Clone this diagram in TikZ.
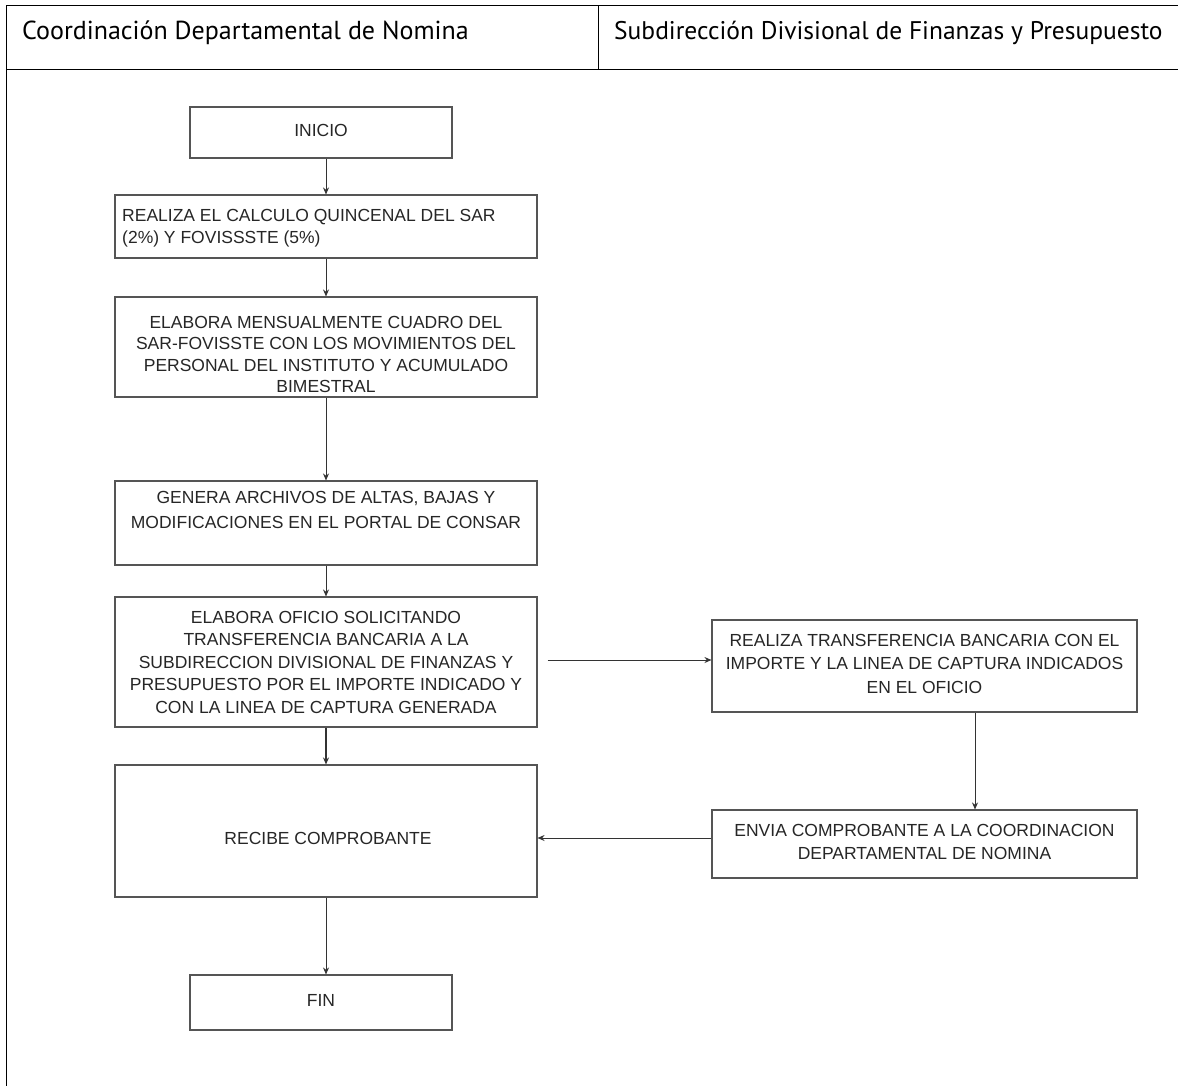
\documentclass[tikz,border=0pt]{standalone}
\usepackage{fontspec}
\setmainfont{Liberation Sans}
\newfontfamily\headfont{PT Sans}
\usetikzlibrary{arrows.meta}
\definecolor{boxline}{HTML}{555555}
\definecolor{arrline}{HTML}{333333}
\tikzset{
  box/.style={draw=boxline, line width=1.1pt, rectangle, inner sep=0pt},
  txt/.style={align=center, font=\fontsize{17.5}{22.5}\selectfont, inner sep=0pt, text=black!85},
  arr/.style={draw=arrline, line width=0.9pt, -{Stealth[length=7pt,width=6pt]}},
  frame/.style={draw=black, line width=1pt},
  head/.style={anchor=west, font=\headfont\selectfont, inner sep=0pt}
}
\begin{document}
\begin{tikzpicture}[x=1pt,y=-1pt]
\useasboundingbox (0,0) rectangle (1178,1086);
% header frame
\draw[frame] (6,6) -- (1178,6);
\draw[frame] (6,70) -- (1178,70);
\draw[frame] (6,6) -- (6,1086);
\draw[frame] (598,6) -- (598,70);
\node[head, font=\headfont\fontsize{26}{28}\selectfont] (h1) at (22,33) {Coordinación Departamental de Nomina};
\node[head, font=\headfont\fontsize{25.5}{28}\selectfont] (h2) at (614,33) {Subdirección Divisional de Finanzas y Presupuesto};
% boxes
\node[box, minimum width=262pt, minimum height=51pt] (inicio) at (321,132.5) {};
\node[txt] (tinicio) at (321,130) {INICIO};
\node[box, minimum width=422pt, minimum height=63pt] (realiza) at (326,226.5) {};
\node[txt, anchor=north west, align=left] (trealiza) at (122,209) {REALIZA EL CALCULO QUINCENAL DEL SAR\\(2\%) Y FOVISSSTE (5\%)};
\node[box, minimum width=422pt, minimum height=100pt] (elabora) at (326,347) {};
\node[txt, anchor=north, font=\fontsize{17.5}{21.3}\selectfont] (telabora) at (326,316) {ELABORA MENSUALMENTE CUADRO DEL\\SAR-FOVISSTE CON LOS MOVIMIENTOS DEL\\PERSONAL DEL INSTITUTO Y ACUMULADO\\BIMESTRAL};
\node[box, minimum width=422pt, minimum height=84pt] (genera) at (326,523) {};
\node[txt, anchor=north, font=\fontsize{17.5}{25}\selectfont] (tgenera) at (326,491) {GENERA ARCHIVOS DE ALTAS, BAJAS Y\\MODIFICACIONES EN EL PORTAL DE CONSAR};
\node[box, minimum width=422pt, minimum height=130pt] (oficio) at (326,662) {};
\node[txt, anchor=north] (toficio) at (326,611) {ELABORA OFICIO SOLICITANDO\\TRANSFERENCIA BANCARIA A LA\\SUBDIRECCION DIVISIONAL DE FINANZAS Y\\PRESUPUESTO POR EL IMPORTE INDICADO Y\\CON LA LINEA DE CAPTURA GENERADA};
\node[box, minimum width=422pt, minimum height=132pt] (recibe) at (326,831) {};
\node[txt] (trecibe) at (328,838) {RECIBE COMPROBANTE};
\node[box, minimum width=262pt, minimum height=55pt] (fin) at (321,1002.5) {};
\node[txt] (tfin) at (321,1000) {FIN};
\node[box, minimum width=425pt, minimum height=92pt] (transf) at (924.5,666) {};
\node[txt, anchor=north, font=\fontsize{17.5}{23.5}\selectfont] (ttransf) at (924.5,634) {REALIZA TRANSFERENCIA BANCARIA CON EL\\IMPORTE Y LA LINEA DE CAPTURA INDICADOS\\EN EL OFICIO};
\node[box, minimum width=425pt, minimum height=68pt] (envia) at (924.5,844) {};
\node[txt, anchor=north, font=\fontsize{17.5}{23}\selectfont] (tenvia) at (924.5,824) {ENVIA COMPROBANTE A LA COORDINACION\\DEPARTAMENTAL DE NOMINA};
% helper coordinates
\coordinate (tx) at (975,0);
\coordinate (ly) at (0,838);
\coordinate (oy) at (0,660);
% connectors
\draw[arr] (inicio.south -| realiza.north) -- (realiza.north);
\draw[arr] (realiza.south) -- (elabora.north);
\draw[arr] (elabora.south) -- (genera.north);
\draw[arr] (genera.south) -- (oficio.north);
\draw[arr, line width=1.5pt] (oficio.south) -- (recibe.north);
\draw[arr] (recibe.south) -- (fin.north -| recibe.south);
\draw[arr, shorten <=10pt] (oficio.east |- oy) -- (transf.west |- oy);
\draw[arr] (transf.south -| tx) -- (envia.north -| tx);
\draw[arr] (envia.west |- ly) -- (recibe.east |- ly);
\end{tikzpicture}
\end{document}
